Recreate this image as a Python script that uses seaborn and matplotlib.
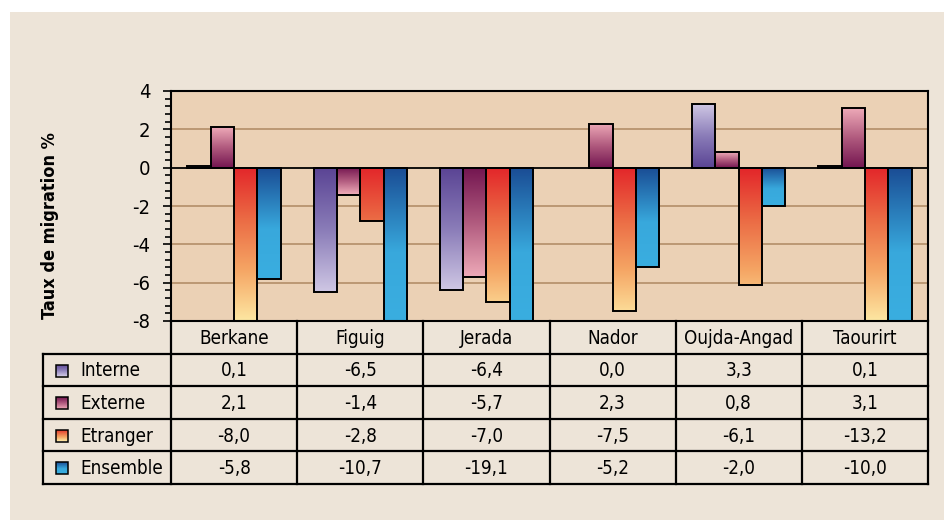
import os
import numpy as np
import pandas as pd
import matplotlib
matplotlib.use("Agg")
import matplotlib.pyplot as plt
import seaborn as sns
from matplotlib.colors import LinearSegmentedColormap
from matplotlib.patches import Rectangle
from matplotlib.ticker import MultipleLocator
from matplotlib import font_manager

# data
provinces = ["Berkane", "Figuig", "Jerada", "Nador", "Oujda-Angad", "Taourirt"]
interne = [0.1, -6.5, -6.4, 0.0, 3.3, 0.1]
externe = [2.1, -1.4, -5.7, 2.3, 0.8, 3.1]
etranger = [-8.0, -2.8, -7.0, -7.5, -6.1, -13.2]
ensemble = [-5.8, -10.7, -19.1, -5.2, -2.0, -10.0]
series_names = ["Interne", "Externe", "Etranger", "Ensemble"]
series_vals = [interne, externe, etranger, ensemble]
y_ticks = [4, 2, 0, -2, -4, -6, -8]

rows = []
for name, vals in zip(series_names, series_vals):
    for p, v in zip(provinces, vals):
        rows.append({"Province": p, "Serie": name, "Taux": v})
df = pd.DataFrame(rows)


def pick_font(wanted, fallback_family, weight="normal"):
    files = [f.fname for f in font_manager.fontManager.ttflist]
    for w in wanted:
        for f in files:
            if os.path.basename(f) == w:
                return font_manager.FontProperties(fname=f), True
    return font_manager.FontProperties(family=fallback_family, weight=weight), False


reg_fp, reg_ok = pick_font(["LiberationSansNarrow-Regular.ttf", "DejaVuSansCondensed.ttf",
                            "RobotoCondensed-Regular.ttf"], "DejaVu Sans")
bold_fp, bold_ok = pick_font(["DejaVuSansCondensed-Bold.ttf", "LiberationSansNarrow-Bold.ttf",
                              "RobotoCondensed-Bold.ttf"], "DejaVu Sans", "bold")
fs = 13.5 if reg_ok else 12

# gradients: dark at zero -> light at bar end
cmaps = {
    "Interne": LinearSegmentedColormap.from_list("i", ["#5a4494", "#8a7cb8", "#cfc7e4"]),
    "Externe": LinearSegmentedColormap.from_list("e", ["#731550", "#b05a7e", "#eeaab8"]),
    "Etranger": LinearSegmentedColormap.from_list("t", ["#e3262a", "#eb6a44", "#f5a564", "#fde7a2"]),
    "Ensemble": LinearSegmentedColormap.from_list("n", [(0, "#1a4c94"), (0.55, "#38a8dc"), (1, "#3aaee0")]),
}
absolute = {"Interne": False, "Externe": False, "Etranger": True, "Ensemble": False}

bg = "#ede4d8"
plot_bg = "#ebd1b5"
ymin, ymax = -8, 4

fig = plt.figure(figsize=(9.45, 5.2), dpi=100)
fig.patch.set_facecolor("white")

# background panel
bgax = fig.add_axes([0, 0, 1, 1], zorder=-5)
bgax.set_xlim(0, 945)
bgax.set_ylim(520, 0)
bgax.axis("off")
bgax.add_patch(Rectangle((10, 12), 935, 508, facecolor=bg, edgecolor="none"))

ax = fig.add_axes([171 / 945, 1 - 321 / 520, 757 / 945, 230 / 520])
sns.barplot(data=df, x="Province", y="Taux", hue="Serie", hue_order=series_names,
            order=provinces, width=0.74, gap=0, ax=ax, legend=False,
            edgecolor="black", linewidth=1.4, errorbar=None)
ax.set_facecolor(plot_bg)

# replace flat fills by gradients
for name, cont, vals in zip(series_names, ax.containers, series_vals):
    cmap = cmaps[name]
    for bar, v in zip(cont.patches, vals):
        if v == 0:
            bar.set_visible(False)
            continue
        bar.set_facecolor("none")
        x0 = bar.get_x()
        w = bar.get_width()
        end = max(min(v, ymax), ymin)
        frac = abs(end / (ymin if v < 0 else ymax)) if absolute[name] else 1.0
        grad = np.linspace(0, frac, 256).reshape(-1, 1)
        im = ax.imshow(grad, cmap=cmap, vmin=0, vmax=1, aspect="auto",
                       extent=(x0, x0 + w, 0, end), origin="lower", zorder=2)
        im.set_clip_path(bar)
        bar.set_zorder(3)
ax.set_xlim(-0.5, 5.5)
ax.set_ylim(ymin, ymax)

for g in [2, -2, -4, -6]:
    ax.axhline(g, color="#b8936f", lw=1.3, zorder=1)
ax.axhline(0, color="black", lw=1.3, zorder=4)

ax.set_yticks(y_ticks)
ax.set_yticklabels([str(t) for t in y_ticks])
ax.yaxis.set_minor_locator(MultipleLocator(0.4))
ax.tick_params(axis="y", which="major", length=6, width=1.2, pad=9)
ax.tick_params(axis="y", which="minor", length=4, width=1.2)
for lab in ax.get_yticklabels():
    lab.set_fontproperties(reg_fp)
    lab.set_fontsize(fs + 1)
ax.set_xticks([])
ax.set_xlabel("")
ax.set_ylabel("")
fig.text(50 / 945, 1 - 226 / 520, "Taux de migration %", rotation=90, ha="center", va="center",
         fontproperties=bold_fp, fontsize=13 if bold_ok else 12, fontweight="bold")
for s in ax.spines.values():
    s.set_color("black")
    s.set_linewidth(1.5)

# data table drawn in pixel coordinates
tab = fig.add_axes([0, 0, 1, 1], zorder=5)
tab.set_xlim(0, 945)
tab.set_ylim(520, 0)
tab.axis("off")
col_edges = np.linspace(171, 928, len(provinces) + 1)
row_edges = [321, 354, 386, 419, 451, 484]
lkw = dict(color="black", lw=1.6)
for y in row_edges[1:]:
    tab.plot([43, 928], [y, y], **lkw)
for x in col_edges:
    tab.plot([x, x], [321, 484], **lkw)
tab.plot([43, 43], [354, 484], **lkw)
for i, p in enumerate(provinces):
    cx = (col_edges[i] + col_edges[i + 1]) / 2
    tab.text(cx, (321 + 354) / 2 + 1, p, ha="center", va="center", fontproperties=reg_fp, fontsize=fs)
    for j, vals in enumerate(series_vals):
        cy = (row_edges[j + 1] + row_edges[j + 2]) / 2 + 1
        tab.text(cx, cy, f"{vals[i]:.1f}".replace(".", ","), ha="center", va="center",
                 fontproperties=reg_fp, fontsize=fs)
for j, name in enumerate(series_names):
    cy = (row_edges[j + 1] + row_edges[j + 2]) / 2
    sq = Rectangle((56, cy - 5.5), 12, 12, facecolor="none", edgecolor="black", lw=1.1, zorder=3)
    tab.add_patch(sq)
    im = tab.imshow(np.linspace(0, 1, 64).reshape(-1, 1), cmap=cmaps[name], vmin=0, vmax=1,
                    aspect="auto", extent=(56, 68, cy + 6.5, cy - 5.5), origin="upper", zorder=2)
    im.set_clip_path(sq)
    tab.text(80, cy + 1, name, ha="left", va="center", fontproperties=reg_fp, fontsize=fs)
tab.set_xlim(0, 945)
tab.set_ylim(520, 0)

fig.savefig("out.png", dpi=100, facecolor=fig.get_facecolor())
